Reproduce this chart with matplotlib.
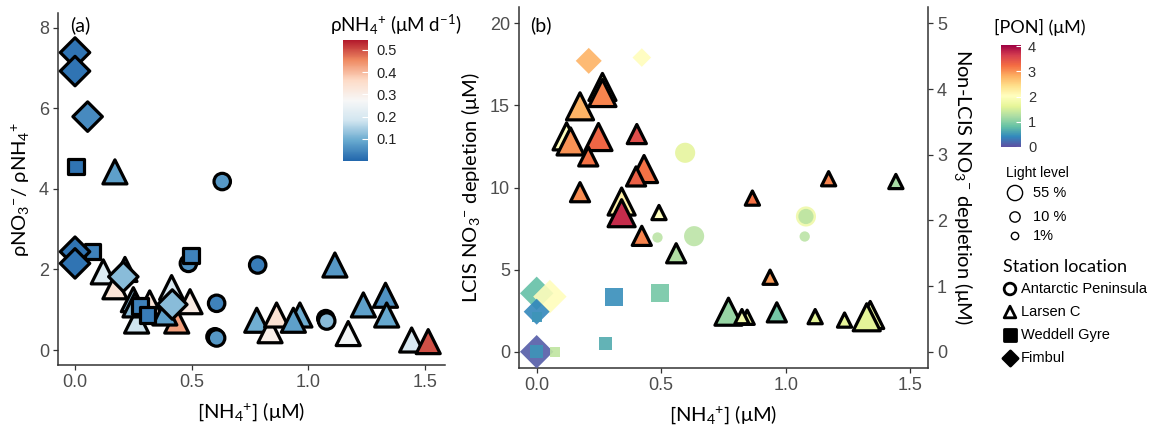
import numpy as np
import matplotlib
matplotlib.use("Agg")
import matplotlib.pyplot as plt
from matplotlib.colors import LinearSegmentedColormap, Normalize

plt.rcParams['font.family'] = ['Liberation Sans', 'DejaVu Sans']
plt.rcParams['mathtext.default'] = 'regular'

# ---------------- Panel (a) data ----------------
a_tri_x = [0.171, 0.214, 0.121, 0.171, 0.25, 0.264, 0.32, 0.414, 0.493, 0.436, 0.385, 0.257,
           0.779, 0.836, 0.864, 0.964, 0.936, 1.114, 1.171, 1.236, 1.331, 1.336, 1.443, 1.514]
a_tri_y = [4.42, 2.0, 1.94, 1.57, 1.25, 0.72, 1.17, 1.55, 1.2, 0.72, 0.92, 1.12,
           0.74, 0.48, 0.87, 0.87, 0.74, 2.11, 0.41, 1.12, 1.36, 0.87, 0.25, 0.21]
a_tri_c = [0.08, 0.16, 0.21, 0.33, 0.12, 0.18, 0.33, 0.2, 0.31, 0.43, 0.08, 0.12,
           0.1, 0.3, 0.34, 0.1, 0.08, 0.07, 0.26, 0.08, 0.06, 0.09, 0.2, 0.5]

a_cir_x = [0.631, 0.486, 0.783, 0.607, 0.600, 0.607, 1.075, 1.079]
a_cir_y = [4.18, 2.15, 2.11, 1.16, 0.33, 0.30, 0.78, 0.72]
a_cir_c = [0.07, 0.06, 0.03, 0.04, 0.03, 0.07, 0.05, 0.12]

a_sq_x = [0.004, 0.074, 0.497, 0.279, 0.31]
a_sq_y = [4.55, 2.44, 2.34, 1.09, 0.87]
a_sq_c = [0.02, 0.04, 0.04, 0.04, 0.03]

a_dia_x = [0.0, 0.0, 0.054, 0.0, 0.0, 0.207, 0.417]
a_dia_y = [7.38, 6.92, 5.79, 2.44, 2.15, 1.82, 1.13]
a_dia_c = [0.02, 0.02, 0.05, 0.02, 0.02, 0.12, 0.12]

# ---------------- Panel (b) data ----------------
# LCIS (Larsen C) triangles, left axis; light: 2=55%, 1=10%, 0=1%
b_tri_x = [0.264, 0.264, 0.174, 0.12, 0.136, 0.248, 0.207, 0.402, 0.431, 0.399, 0.174, 0.341,
           0.341, 0.491, 0.422, 0.56, 1.172, 1.442, 0.866, 0.937, 0.77, 0.845, 0.824, 0.964,
           1.118, 1.236, 1.339, 1.325]
b_tri_y = [16.13, 15.76, 14.95, 13.12, 12.81, 13.08, 11.9, 13.26, 11.13, 10.68, 9.72, 9.15,
           8.44, 8.48, 7.06, 6.0, 10.54, 10.37, 9.36, 4.54, 2.44, 2.1, 2.14, 2.4,
           2.14, 1.93, 2.24, 2.1]
b_tri_pon = [1.9, 3.1, 2.8, 2.0, 3.0, 3.3, 3.2, 3.5, 3.2, 3.35, 3.05, 2.2,
             3.75, 2.0, 3.1, 1.25, 3.1, 1.2, 3.2, 2.95, 1.1, 1.8, 1.8, 0.9,
             1.6, 1.65, 1.7, 1.6]
b_tri_light = [2, 2, 2, 2, 2, 2, 1, 1, 2, 1, 1, 2,
               2, 0, 1, 1, 0, 0, 0, 0, 2, 0, 0, 1,
               0, 0, 2, 2]

# Non-LCIS stations, right axis
b_cir_x = [0.596, 0.632, 0.485, 1.081, 1.081, 1.076]
b_cir_y = [3.03, 1.76, 1.74, 2.06, 2.06, 1.755]
b_cir_pon = [1.6, 1.3, 1.3, 1.75, 1.3, 1.3]
b_cir_light = [2, 2, 0, 2, 1, 0]

b_dia_x = [0.209, 0.422, 0.0, 0.053, 0.0, 0.0]
b_dia_y = [4.43, 4.48, 0.89, 0.84, 0.61, 0.0]
b_dia_pon = [2.8, 2.05, 0.8, 2.05, 0.4, 0.1]
b_dia_light = [1, 0, 2, 2, 1, 2]

b_sq_x = [0.31, 0.496, 0.275, 0.074, 0.0, 0.0]
b_sq_y = [0.84, 0.89, 0.13, 0.0, 0.53, 0.0]
b_sq_pon = [0.45, 0.9, 0.65, 1.35, 0.5, 0.5]
b_sq_light = [2, 2, 1, 0, 0, 1]

x_ticks = [0.0, 0.5, 1.0, 1.5]
x_ticklabels = ["0.0", "0.5", "1.0", "1.5"]

# ---------------- figure ----------------
W, H = 1149, 428
fig = plt.figure(figsize=(W / 100, H / 100), dpi=100)


def rect(l, t, r, b):
    return [l / W, 1 - b / H, (r - l) / W, (b - t) / H]


def ftext(x, y, s, **kw):
    return fig.text(x / W, 1 - y / H, s, **kw)


TITLEFONT = ['Lato', 'DejaVu Sans']
TICKCOL = '#4D4D4D'
rdbu7 = LinearSegmentedColormap.from_list(
    'rdbu7', ['#2166AC', '#67A9CF', '#D1E5F0', '#F7F7F7', '#FDDBC7', '#EF8A62', '#B2182B'])
norm_a = Normalize(0.0, 0.545)
spec = plt.get_cmap('Spectral_r')
norm_b = Normalize(0.0, 4.05)


def style_axes(ax):
    for s in ['top', 'right']:
        ax.spines[s].set_visible(False)
    for s in ['left', 'bottom']:
        ax.spines[s].set_linewidth(1.1)
        ax.spines[s].set_color('#333333')
    ax.tick_params(axis='both', length=3.5, width=0.9, color='#333333',
                   labelsize=13, labelcolor=TICKCOL, pad=3)


# ---- Panel (a)
axa = fig.add_axes(rect(58, 13, 445, 365))
style_axes(axa)
axa.set_xlim(-0.073, 1.586)
axa.set_ylim(-0.37, 8.36)
axa.set_xticks(x_ticks)
axa.set_xticklabels(x_ticklabels)
axa.set_yticks([0, 2, 4, 6, 8])

lw_a = 2.3
axa.scatter(a_tri_x, a_tri_y, c=a_tri_c, cmap=rdbu7, norm=norm_a, marker='^', s=300,
            edgecolors='black', linewidths=lw_a, zorder=3)
axa.scatter(a_cir_x, a_cir_y, c=a_cir_c, cmap=rdbu7, norm=norm_a, marker='o', s=140,
            edgecolors='black', linewidths=lw_a, zorder=4)
axa.scatter(a_sq_x, a_sq_y, c=a_sq_c, cmap=rdbu7, norm=norm_a, marker='s', s=125,
            edgecolors='black', linewidths=lw_a, zorder=5)
sca = axa.scatter(a_dia_x, a_dia_y, c=a_dia_c, cmap=rdbu7, norm=norm_a, marker='D', s=225,
                  edgecolors='black', linewidths=lw_a, zorder=6)

axa.set_xlabel(r"[NH$_4$$^{+}$] (μM)", fontsize=14.5, family=TITLEFONT,
               color='black', labelpad=7)
axa.set_ylabel(r"ρNO$_3$$^{-}$/ ρNH$_4$$^{+}$", fontsize=14.5, family=TITLEFONT,
               color='black', labelpad=5)
ftext(80, 25, "(a)", fontsize=14, family=TITLEFONT, ha='center', va='center')

# colorbar (a)
cax_a = fig.add_axes(rect(343, 40, 368, 161))
cb_a = fig.colorbar(sca, cax=cax_a)
cb_a.outline.set_visible(False)
cb_a.set_ticks([0.1, 0.2, 0.3, 0.4, 0.5])
cb_a.ax.tick_params(length=4, width=0.8, color='white', direction='in', labelsize=10.5,
                    labelcolor='#222222', pad=6)
ftext(396, 25, r"ρNH$_4$$^{+}$ (μM d$^{-1}$)", fontsize=13.5, family=TITLEFONT,
      ha='center', va='center')

# ---- Panel (b)
axb = fig.add_axes(rect(519, 7, 928, 368))
style_axes(axb)
axb.set_xlim(-0.071, 1.571)
ylo, yhi = -0.99, 21.0
axb.set_ylim(ylo, yhi)
axb.set_xticks(x_ticks)
axb.set_xticklabels(x_ticklabels)
axb.set_yticks([0, 5, 10, 15, 20])

ax2 = axb.twinx()
ax2.set_ylim(ylo / 4, yhi / 4)
ax2.set_yticks([0, 1, 2, 3, 4, 5])
for s in ['top', 'left', 'bottom']:
    ax2.spines[s].set_visible(False)
ax2.spines['right'].set_linewidth(1.1)
ax2.spines['right'].set_color('#333333')
ax2.tick_params(axis='y', length=3.5, width=0.9, color='#333333', labelsize=13,
                labelcolor=TICKCOL, pad=3)

tri_sizes = {2: 380, 1: 190, 0: 105}
cir_sizes = {2: 210, 1: 120, 0: 55}
sq_sizes = {2: 170, 1: 90, 0: 55}
dia_sizes = {2: 290, 1: 175, 0: 90}

scb = axb.scatter(b_tri_x, b_tri_y, c=b_tri_pon, cmap=spec, norm=norm_b, marker='^',
                  s=[tri_sizes[l] for l in b_tri_light], edgecolors='black',
                  linewidths=2.3, zorder=3)
ax2.scatter(b_cir_x, b_cir_y, c=b_cir_pon, cmap=spec, norm=norm_b, marker='o',
            s=[cir_sizes[l] for l in b_cir_light], linewidths=0, alpha=0.85, zorder=3)
ax2.scatter(b_dia_x, b_dia_y, c=b_dia_pon, cmap=spec, norm=norm_b, marker='D',
            s=[dia_sizes[l] for l in b_dia_light], linewidths=0, alpha=0.9, zorder=3)
ax2.scatter(b_sq_x, b_sq_y, c=b_sq_pon, cmap=spec, norm=norm_b, marker='s',
            s=[sq_sizes[l] for l in b_sq_light], linewidths=0, alpha=0.9, zorder=4)

axb.set_xlabel(r"[NH$_4$$^{+}$] (μM)", fontsize=14.5, family=TITLEFONT,
               color='black', labelpad=7)
axb.set_ylabel(r"LCIS NO$_3$$^{-}$ depletion (μM)", fontsize=14.5,
               family=TITLEFONT, color='black', labelpad=6)
ax2.set_ylabel(r"Non-LCIS NO$_3$$^{-}$ depletion (μM)", fontsize=14.5,
               family=TITLEFONT, color='black', rotation=270, labelpad=20)
ftext(541, 25, "(b)", fontsize=14, family=TITLEFONT, ha='center', va='center')

# colorbar (b)
cax_b = fig.add_axes(rect(1001, 45, 1021, 147))
cb_b = fig.colorbar(scb, cax=cax_b)
cb_b.outline.set_visible(False)
cb_b.set_ticks([0, 1, 2, 3, 4])
cb_b.ax.tick_params(length=3.5, width=0.8, color='white', direction='in', labelsize=10.5,
                    labelcolor='#333333', pad=5)
ftext(1040, 27, "[PON] (μM)", fontsize=13, family=TITLEFONT,
      ha='center', va='center')

# ---- legends (right side)
lg = fig.add_axes(rect(985, 160, 1149, 375))
lg.set_xlim(985, 1149)
lg.set_ylim(375, 160)
lg.axis('off')
lg.text(1006, 173, "Light level", fontsize=10, va='center', ha='left')
for yy, ss, lab in [(193, 120, "55 %"), (217, 55, "10 %"), (236, 28, "1%")]:
    lg.scatter([1015], [yy], s=ss, marker='o', facecolors='none', edgecolors='black',
               linewidths=1.0, clip_on=False)
    lg.text(1033, yy, lab, fontsize=10.5, va='center', ha='left')
lg.text(1003, 267, "Station location", fontsize=13, family=TITLEFONT,
        va='center', ha='left')
keys = [('o', 289, "Antarctic Peninsula", 'none'), ('^', 312, "Larsen C", 'none'),
        ('s', 335, "Weddell Gyre", 'black'), ('D', 358, "Fimbul", 'black')]
for mk, yy, lab in [(k[0], k[1], k[2]) for k in keys]:
    pass
for mk, yy, lab, fc in keys:
    lg.scatter([1010], [yy], s=70 if mk != 'D' else 60, marker=mk, facecolors=fc,
               edgecolors='black', linewidths=2.0, clip_on=False)
    lg.text(1021, yy, lab, fontsize=10.5, va='center', ha='left')

fig.savefig("out.png", dpi=100)
